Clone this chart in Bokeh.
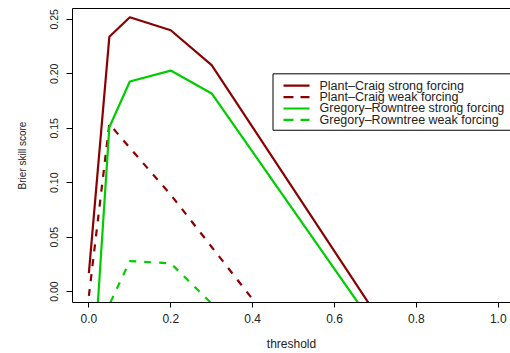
from bokeh.plotting import figure
from bokeh.models import Range1d, LinearAxis, FixedTicker
from bokeh.core.properties import value
from bokeh.embed import file_html
from bokeh.resources import INLINE

# Brier skill score against forecast threshold, per model and forcing strength
pc_strong_x = [0.0, 0.05, 0.1, 0.2, 0.3, 0.7]
pc_strong = [0.017, 0.234, 0.252, 0.240, 0.208, -0.020]

pc_weak_x = [0.0, 0.05, 0.1, 0.2, 0.3, 0.4]
pc_weak = [-0.004, 0.154, 0.132, 0.089, 0.041, -0.007]

gr_strong_x = [0.0, 0.05, 0.1, 0.2, 0.3, 0.7]
gr_strong = [-0.137, 0.151, 0.193, 0.203, 0.182, -0.033]

gr_weak_x = [0.0, 0.05, 0.1, 0.2, 0.3]
gr_weak = [-0.160, -0.012, 0.028, 0.026, -0.011]

series_labels = ["Plant\u2013Craig strong forcing", "Plant\u2013Craig weak forcing",
                 "Gregory\u2013Rowntree strong forcing", "Gregory\u2013Rowntree weak forcing"]

x_ticks = [0.0, 0.2, 0.4, 0.6, 0.8, 1.0]
y_ticks = [0.0, 0.05, 0.10, 0.15, 0.20, 0.25]
x_tick_labels = {0.0: "0.0", 0.2: "0.2", 0.4: "0.4", 0.6: "0.6", 0.8: "0.8", 1.0: "1.0"}
y_tick_labels = {0.0: "0.00", 0.05: "0.05", 0.10: "0.10", 0.15: "0.15", 0.20: "0.20", 0.25: "0.25"}

DARKRED = "#8B0000"
GREEN = "#00CD00"
FONT = "Liberation Sans"
DASH = "7 8"

# plot frame spans x 72..510 and y 8..305 on the canvas
p = figure(width=510, height=353, output_backend="svg", toolbar_location=None,
           x_range=Range1d(-0.04, 1.03), y_range=Range1d(-0.01, 0.26),
           x_axis_location=None, y_axis_location=None,
           min_border_left=72, min_border_right=0, min_border_top=8, min_border_bottom=48)
p.outline_line_color = None
p.xgrid.grid_line_color = None
p.ygrid.grid_line_color = None
p.background_fill_color = "white"
p.border_fill_color = "white"

# pixel-addressed ranges used to lay out the legend box
p.extra_x_ranges = {"px": Range1d(72, 510)}
p.extra_y_ranges = {"px": Range1d(305, 8)}

xaxis = LinearAxis(ticker=FixedTicker(ticks=x_ticks), axis_label="threshold")
xaxis.major_label_overrides = x_tick_labels
yaxis = LinearAxis(ticker=FixedTicker(ticks=y_ticks), axis_label="Brier skill score")
yaxis.major_label_overrides = y_tick_labels
top = LinearAxis(ticker=FixedTicker(ticks=[]))

for ax in (xaxis, yaxis, top):
    ax.axis_line_color = "black"
    ax.axis_line_width = 1
    ax.major_tick_line_color = "black"
    ax.minor_tick_line_color = None
    ax.major_tick_in = 0
    ax.major_label_text_font = FONT
    ax.major_label_text_color = "#222222"
    ax.axis_label_text_font = FONT
    ax.axis_label_text_font_style = "normal"
    ax.axis_label_text_color = "#222222"

xaxis.major_tick_out = 5
xaxis.major_label_standoff = 6
xaxis.major_label_text_font_size = "12px"
xaxis.axis_label_text_font_size = "12px"
xaxis.axis_label_standoff = 11

yaxis.major_tick_out = 6
yaxis.major_label_standoff = 8
yaxis.major_label_orientation = "vertical"
yaxis.major_label_text_font_size = "10.5px"
yaxis.axis_label_text_font_size = "10px"
yaxis.axis_label_standoff = 20

top.major_tick_out = 0
top.major_label_text_font_size = "0px"
top.major_label_standoff = 0
top.axis_label = None

p.add_layout(xaxis, "below")
p.add_layout(yaxis, "left")
p.add_layout(top, "above")

lw = 2.2
p.line(pc_strong_x, pc_strong, line_color=DARKRED, line_width=lw)
p.line(pc_weak_x, pc_weak, line_color=DARKRED, line_width=lw, line_dash=DASH)
p.line(gr_strong_x, gr_strong, line_color=GREEN, line_width=lw)
p.line(gr_weak_x, gr_weak, line_color=GREEN, line_width=lw, line_dash=DASH)

# legend: white box with sample strokes and labels
styles = [(DARKRED, "solid"), (DARKRED, "10 7"), (GREEN, "solid"), (GREEN, "10 7")]
box_left, box_top, box_bottom = 272.5, 74, 131
row_y0, row_step = 86, 11.5
p.quad(left=[box_left], right=[530], top=[box_top], bottom=[box_bottom],
       fill_color="white", line_color="black", line_width=1,
       x_range_name="px", y_range_name="px")
for i, (label, (color, dash)) in enumerate(zip(series_labels, styles)):
    y = row_y0 + i * row_step
    p.line([283, 309], [y, y], line_color=color, line_width=lw, line_dash=dash,
           x_range_name="px", y_range_name="px")
    p.text(x=[319], y=[y], text=[label], text_font=value(FONT), text_font_size="12.5px",
           text_color="#222222", text_baseline="middle", text_align="left",
           x_range_name="px", y_range_name="px")

open("out.html", "w").write(file_html(p, INLINE))
